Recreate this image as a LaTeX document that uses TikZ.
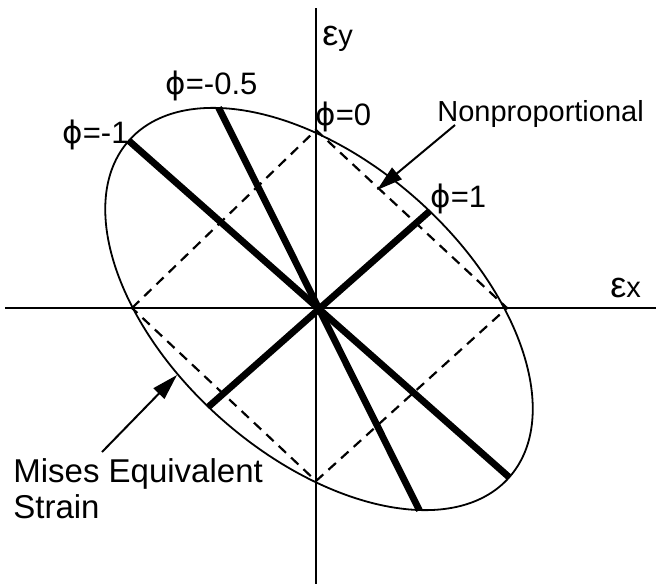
\documentclass[tikz,border=0pt]{standalone}
\usepackage{fontspec}
\setmainfont{Liberation Sans}
\newfontfamily\greekfont{DejaVu Sans}
\usetikzlibrary{arrows.meta}
\newcommand{\strainSym}{{\fontsize{18}{18}\selectfont ε}}
\newcommand{\ratioSym}{{\greekfont ϕ}}

\begin{document}
\begin{tikzpicture}[x=0.5pt,y=-0.5pt,
  axisline/.style={line width=1.2pt},
  yieldcurve/.style={line width=0.9pt},
  guide/.style={line width=1.1pt, dash pattern=on 5pt off 3.5pt},
  loadpath/.style={line width=3.4pt},
  callout/.style={line width=1pt, -{Triangle[length=13pt,width=7.5pt]}},
  lbl/.style={font={\fontsize{14.5}{17}\selectfont}, anchor=base west, inner sep=0pt},
  ratiolbl/.style={lbl, font={\fontsize{15.5}{18}\selectfont}}]
\useasboundingbox (0,0) rectangle (656,584);
% axes
\coordinate (xL) at (5,308);
\coordinate (xR) at (656,308);
\coordinate (yT) at (316,8);
\coordinate (yB) at (316,584);
\draw[axisline] (xL) -- (xR);
\draw[axisline] (yT) -- (yB);
% dashed square through the axis crossings
\coordinate (dL) at (132,308);
\coordinate (dT) at (316,130);
\coordinate (dR) at (507,308);
\coordinate (dB) at (316,481);
\draw[guide] (dL) -- (dT) -- (dR) -- (dB) -- cycle;
% Mises ellipse and the strain paths
\begin{scope}[shift={(319,309)}, rotate=-41.5]
\draw[yieldcurve] (0,0) ellipse [x radius=254, y radius=147];
\draw[loadpath] (180:254) -- (0:254);
\draw[loadpath] (-158:225) -- (22:225);
\draw[loadpath] (-83:147.7) -- (97:147.7);
\end{scope}
% labels
\node (ey) [lbl] at (322,45) {\strainSym y};
\node (ex) [lbl] at (610,297) {\strainSym x};
\node (phiA) [ratiolbl] at (62,143) {\ratioSym=-1};
\node (phiB) [ratiolbl] at (165,94) {\ratioSym=-0.5};
\node (phiC) [ratiolbl] at (315,125) {\ratioSym=0};
\node (phiD) [ratiolbl] at (430,207) {\ratioSym=1};
\node (np) [lbl] at (437,121) {Nonproportional};
\node (mises) [lbl, font={\fontsize{16.5}{18}\selectfont}] at (13,482) {Mises Equivalent};
\node (strain) [lbl, font={\fontsize{16.5}{18}\selectfont}] at (13,518) {Strain};
% pointers
\coordinate (npFrom) at (455,125);
\coordinate (npTo) at (377,190);
\coordinate (msFrom) at (102,452);
\coordinate (msTo) at (177,375);
\draw[callout] (npFrom) -- (npTo);
\draw[callout] (msFrom) -- (msTo);
\end{tikzpicture}
\end{document}
